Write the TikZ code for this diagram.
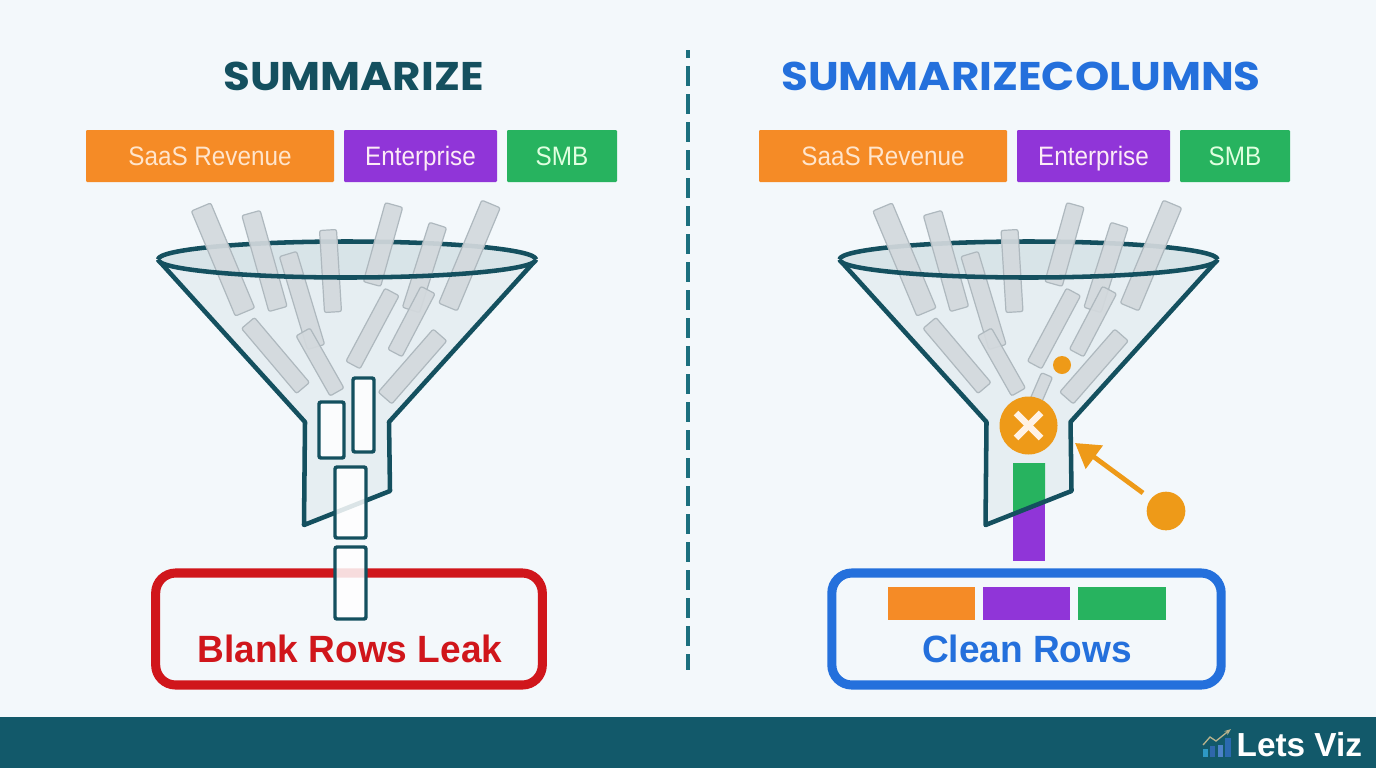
\documentclass[tikz,border=0pt]{standalone}
\usepackage{fontspec}
\setmainfont{Liberation Sans}
\newfontfamily\titlefont[FakeStretch=1.09]{Poppins}
\newfontfamily\tagfont[FakeStretch=0.91]{Liberation Sans}
\newfontfamily\resultfont[FakeStretch=0.975]{Liberation Sans}
\usepackage{xcolor}
\usetikzlibrary{arrows.meta, positioning, calc}
\definecolor{paper}{HTML}{F3F8FB}
\definecolor{tealdark}{HTML}{14505F}
\definecolor{tealband}{HTML}{12596A}
\definecolor{tealdash}{HTML}{1B6F7E}
\definecolor{blueway}{HTML}{2470DC}
\definecolor{redway}{HTML}{D0161B}
\definecolor{tagorange}{HTML}{F58B26}
\definecolor{tagpurple}{HTML}{9035D8}
\definecolor{taggreen}{HTML}{27B35F}
\definecolor{amberdot}{HTML}{EE9A18}
\definecolor{barfill}{HTML}{D3D9DD}
\definecolor{barline}{HTML}{AEB8BE}
\definecolor{logoline}{HTML}{B8B28C}
\tikzset{
    tag/.style={rectangle, rounded corners=0.8pt, outer sep=0pt, minimum height=39pt, inner sep=0pt, text height=14pt, text depth=0pt, font=\tagfont\fontsize{20}{22}\selectfont},
    orangetag/.style={tag, fill=tagorange, text=orange!20!white, minimum width=186pt},
    purpletag/.style={tag, fill=tagpurple, text=magenta!8!white, minimum width=114.75pt},
    greentag/.style={tag, fill=taggreen, text=green!12!white, minimum width=82.5pt},
    headline/.style={font=\titlefont\fontsize{30}{34}\selectfont\bfseries},
    resultbox/.style={rectangle, rounded corners=15pt, line width=6.8pt, minimum width=290pt, minimum height=84pt, fill=paper},
    resulttext/.style={font=\resultfont\fontsize{28.5}{32}\selectfont\bfseries},
    funnelline/.style={draw=tealdark, line width=3.4pt, line join=round},
    whitebar/.style={draw=tealdark, line width=2.6pt, fill=white, fill opacity=0.85, rounded corners=1.5pt},
    dropbar/.style={draw=barline, line width=0.9pt, fill=barfill, fill opacity=0.92, rounded corners=1.5pt},
    amber/.style={circle, fill=amberdot, inner sep=0pt},
    crossline/.style={draw=white!90!orange, line width=5pt}
}
% one tilted bar: ends of its middle line, then its width
\newcommand{\tiltbar}[5]{%
    \path (#1,#2) coordinate (p) (#3,#4) coordinate (q);
    \draw[dropbar] ($(p)!#5/2!90:(q)$) -- ($(p)!#5/2!-90:(q)$) -- ($(q)!#5/2!90:(p)$) -- ($(q)!#5/2!-90:(p)$) -- cycle;
}
% funnel body and back of the rim, around the middle of its rim
\newcommand{\funnelbody}[1]{%
    \begin{scope}[shift={(#1,0)}]
        \fill[fill=tealdark!6!paper] (-187,262) -- (-42,422) -- (-43,525) -- (43,491) -- (42,422) -- (187,262) -- cycle;
        \fill[fill=tealdark!12!paper] (0,259.5) ellipse (189 and 18);
        \draw[funnelline] (189,259.5) arc (0:-180:189 and 18);
    \end{scope}
}
\newcommand{\funneloutline}[1]{%
    \begin{scope}[shift={(#1,0)}]
        \draw[funnelline] (-187,262) -- (-42,422) -- (-43,525) -- (43,491) -- (42,422) -- (187,262);
        \draw[funnelline] (189,259.5) arc (0:180:189 and 18);
    \end{scope}
}
\newcommand{\dropbars}[1]{%
    \begin{scope}[shift={(#1,0)}]
        \foreach \xa/\ya/\xb/\yb/\wd in {
            -146/207/-102/312/21, -96/213/-69/309/19, -59/254/-31/347/18,
            -19/230/-14/312/17, 47/205/25/284/18, 91/225/64/310/18,
            144/204/101/307/20, -99/323/-44/388/17, -44/332/-10/392/16,
            45/292/6/365/16, 81/290/48/353/16, 93/335/38/398/18}
            {\tiltbar{\xa}{\ya}{\xb}{\yb}{\wd*0.75pt}}
    \end{scope}
}

\begin{document}
\begin{tikzpicture}[x=0.75pt, y=-0.75pt]
    \useasboundingbox (0,0) rectangle (1376,768);
    \fill[paper] (0,0) rectangle (1376,768);

    % Footer band
    \fill[tealband] (0,717) rectangle (1376,768);
    \node[text=white, anchor=west, font=\fontsize{25}{28}\selectfont\bfseries] (brand) at (1232,745) {Lets Viz};
    \fill[cyan!55!teal] (1203,749) rectangle (1208,757);
    \fill[cyan!35!blue!70!teal] (1210,746) rectangle (1215,757);
    \fill[blue!40!teal!70!white] (1218,745) rectangle (1223,757);
    \fill[cyan!40!blue!75!teal] (1225,738) rectangle (1231,757);
    \draw[-{Stealth[length=5pt]}, draw=logoline, line width=1pt] (1203,745) -- (1210,737) -- (1216,741) -- (1231,729);

    % Middle divider
    \draw[tealdash, line width=3.5pt, dash pattern=on 15pt off 6pt, dash phase=9pt] (688,50) -- (688,670);

    % Titles
    \node[headline, text=tealdark] (title1) at (353.5,76.5) {SUMMARIZE};
    \node[headline, text=blueway] (title2) at (1021,76.5) {SUMMARIZECOLUMNS};

    % Column tags, left
    \node[orangetag] (saas1) at (210,156) {SaaS Revenue};
    \node[purpletag, right=7.5pt of saas1] (ent1) {Enterprise};
    \node[greentag, right=7.5pt of ent1] (smb1) {SMB};

    % Column tags, right
    \node[orangetag] (saas2) at (883,156) {SaaS Revenue};
    \node[purpletag, right=7.5pt of saas2] (ent2) {Enterprise};
    \node[greentag, right=7.5pt of ent2] (smb2) {SMB};

    % Left funnel
    \funnelbody{347}
    \dropbars{347}
    \funneloutline{347}
    \node[resultbox, draw=redway] (leak) at (349,629) {};
    \node[resulttext, text=redway] (leaktext) at (350,649) {Blank Rows Leak};
    \draw[whitebar] (319,402) rectangle (344,458);
    \draw[whitebar] (353,378) rectangle (374,452);
    \draw[whitebar] (335,467) rectangle (366,538);
    \draw[whitebar] (335,547) rectangle (366,619);

    % Right funnel
    \funnelbody{1028.5}
    \dropbars{1028.5}
    \tiltbar{1047}{375}{1034}{405}{12*0.75pt}
    \fill[tagpurple] (1013,500) rectangle (1045,561);
    \fill[taggreen] (1013,463) -- (1045,463) -- (1045,502) -- (1013,514) -- cycle;
    \funneloutline{1028.5}
    \node[amber, minimum size=13.5pt] (spark) at (1062,365) {};
    \node[amber, minimum size=43.5pt] (stop) at (1028.5,425.5) {};
    \draw[crossline] ([shift={(-12.5,-12.5)}]stop.center) -- ([shift={(12.5,12.5)}]stop.center);
    \draw[crossline] ([shift={(12.5,-12.5)}]stop.center) -- ([shift={(-12.5,12.5)}]stop.center);
    \node[amber, minimum size=29pt] (reject) at (1166,511) {};
    \coordinate (wall) at (1075,443);
    \coordinate (tail) at (1143,493);
    \draw[-{Triangle[length=18pt, width=21pt]}, draw=amberdot, line width=3.6pt] (tail) -- (wall);

    % Clean result
    \node[resultbox, draw=blueway, minimum width=292pt] (clean) at (1026.5,629) {};
    \node[resulttext, text=blueway] (cleantext) at (1027,649) {Clean Rows};
    \fill[tagorange] (888,587) rectangle (975,620);
    \fill[tagpurple] (983,587) rectangle (1070,620);
    \fill[taggreen] (1078,587) rectangle (1166,620);
\end{tikzpicture}
\end{document}
